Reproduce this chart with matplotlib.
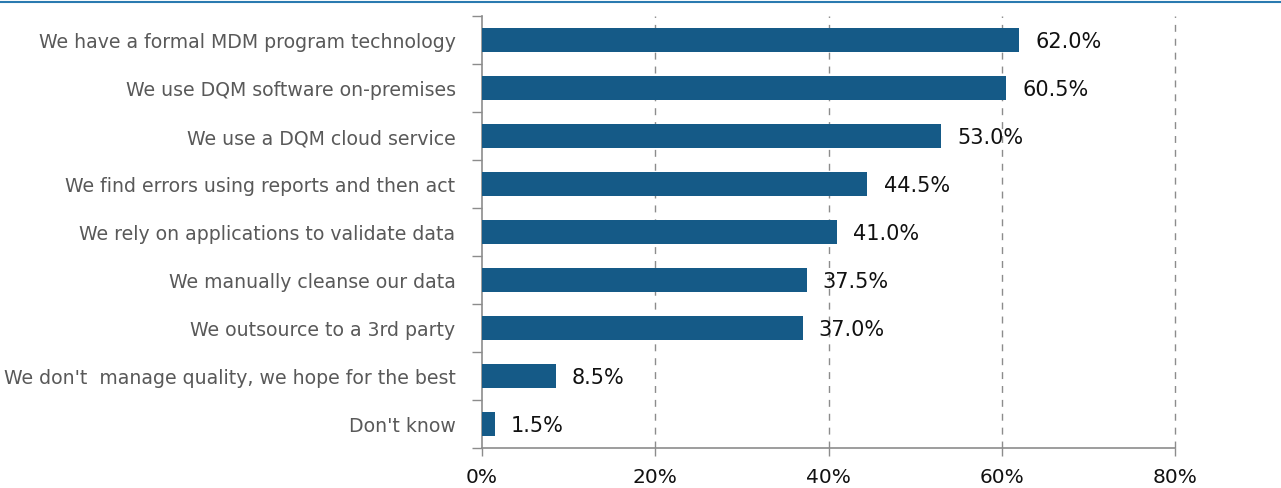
import matplotlib.pyplot as plt
import numpy as np

# datos ------------------------------------------------------------------
categories = [
    "We have a formal MDM program technology",
    "We use DQM software on-premises",
    "We use a DQM cloud service",
    "We find errors using reports and then act",
    "We rely on applications to validate data",
    "We manually cleanse our data",
    "We outsource to a 3rd party",
    "We don't  manage quality, we hope for the best",
    "Don't know",
]
values = [62.0, 60.5, 53.0, 44.5, 41.0, 37.5, 37.0, 8.5, 1.5]
xticks = [0, 20, 40, 60, 80]

bar_color = "#155a87"
grid_color = "#8c8c8c"

fig = plt.figure(figsize=(12.81, 4.89), dpi=100)
ax = fig.add_axes([482 / 1281, 40 / 489, (1175 - 482) / 1281, (449 - 17) / 489])

y = np.arange(len(categories))
ax.barh(y, values, height=0.5, color=bar_color, zorder=3)
ax.set_ylim(len(categories) - 0.5, -0.5)
ax.set_xlim(0, 80)

for yi, v in zip(y, values):
    ax.text(v + 1.85, yi + 0.02, f"{v:.1f}%", va="center", ha="left",
            fontsize=15, color="#111111", family="DejaVu Sans", zorder=4)

# ejes -------------------------------------------------------------------
ax.set_yticks(y)
ax.set_yticklabels(categories, fontsize=13.6, color="#595959", family="DejaVu Sans")
ax.tick_params(axis="y", which="major", length=0, pad=19)
ax.set_yticks(np.arange(-0.5, len(categories), 1), minor=True)
ax.tick_params(axis="y", which="minor", length=7, color=grid_color, width=1)

ax.set_xticks(xticks)
ax.set_xticklabels([f"{t}%" for t in xticks], fontsize=14.5, color="#111111")
ax.tick_params(axis="x", length=6, color=grid_color, width=1, pad=8)

for t in xticks[1:]:
    ax.axvline(t, color=grid_color, linestyle=(0, (5, 5)), linewidth=1,
               zorder=1, clip_on=False)

for s in ["top", "right"]:
    ax.spines[s].set_visible(False)
for s in ["left", "bottom"]:
    ax.spines[s].set_color(grid_color)
    ax.spines[s].set_linewidth(1.2)

# linea superior
fig.add_artist(plt.Line2D([0, 1], [1 - 2.5 / 489, 1 - 2.5 / 489], color="#2a7ab0",
                          linewidth=1.5, transform=fig.transFigure))

fig.savefig("out.png", dpi=100)
